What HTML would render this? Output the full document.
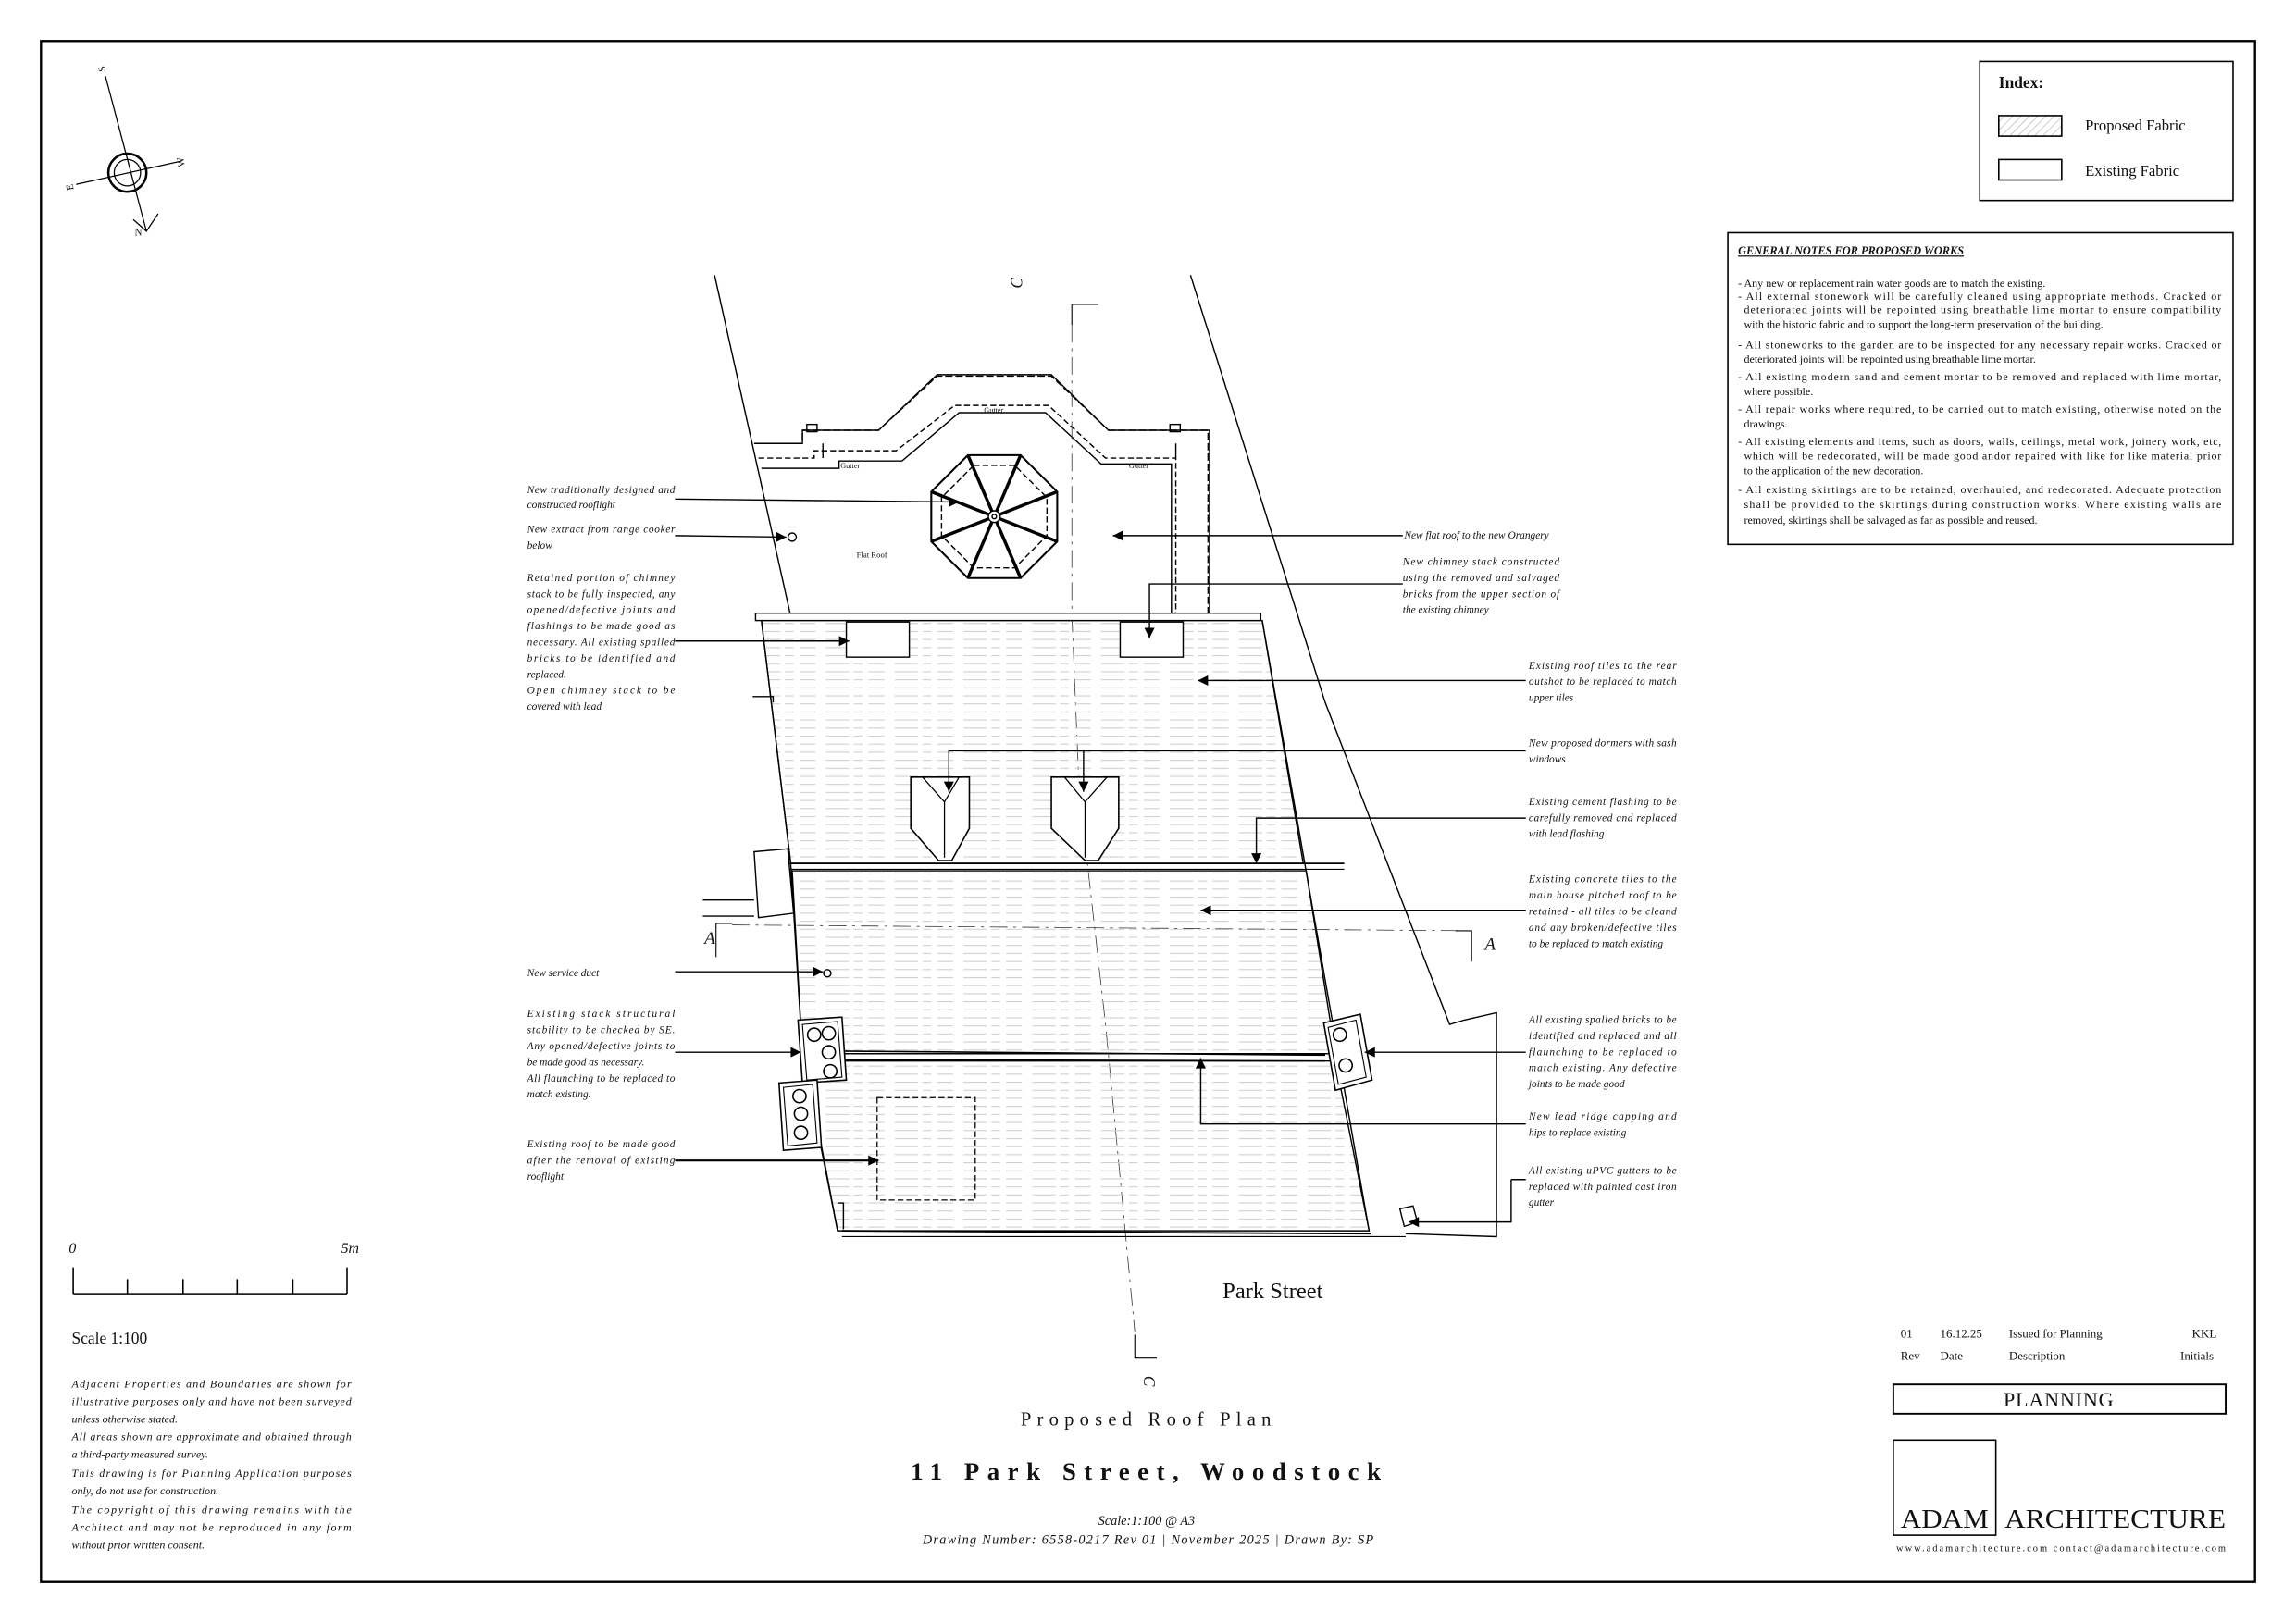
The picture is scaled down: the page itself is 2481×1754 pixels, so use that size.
<!DOCTYPE html>
<html><head><meta charset="utf-8"><style>
html,body{margin:0;padding:0;background:#fff}
svg{display:block}
text{font-family:"Liberation Serif",serif;fill:#111}
.n{font-size:7.2px;font-style:italic}
.g{font-size:7.6px}
</style></head><body>
<svg width="2481" height="1754" viewBox="0 0 1568 1109" preserveAspectRatio="none" xmlns="http://www.w3.org/2000/svg">
<defs>
<pattern id="tile" width="47" height="5.5" patternUnits="userSpaceOnUse">
<line x1="0" y1="2.5" x2="47" y2="2.5" stroke="#cfcfcf" stroke-width="0.7" stroke-dasharray="16 3 6 4 11 7"/>
</pattern>
<pattern id="hatch" width="4" height="4" patternUnits="userSpaceOnUse" patternTransform="rotate(45)">
<line x1="0" y1="0" x2="0" y2="4" stroke="#999" stroke-width="0.6"/>
</pattern>
<marker id="ar" viewBox="0 0 10 10" refX="10" refY="5" markerWidth="9" markerHeight="7" orient="auto" markerUnits="userSpaceOnUse"><path d="M0,0 L10,5 L0,10z" fill="#000"/></marker>
</defs>
<rect width="1568" height="1109" fill="#fff"/>
<rect x="28" y="28" width="1512" height="1053" fill="none" stroke="#000" stroke-width="1.5"/>

<!-- compass -->
<g stroke="#000" fill="none" stroke-width="0.8">
<line x1="72" y1="52" x2="100" y2="158"/>
<line x1="52" y1="126" x2="124" y2="110"/>
<circle cx="87" cy="118" r="13" stroke-width="1.6"/>
<circle cx="87" cy="118" r="9"/>
<path d="M91,150 L100,158 L108,146"/>
</g>
<text x="68" y="49" font-size="7" transform="rotate(-100 70 47)">S</text>
<text x="122" y="114" font-size="7" transform="rotate(-100 124 112)">W</text>
<text x="46" y="130" font-size="7" transform="rotate(-100 48 128)">E</text>
<text x="92" y="161" font-size="7">N</text>

<!-- index -->
<rect x="1352" y="42" width="173" height="95" fill="none" stroke="#000" stroke-width="1"/>
<text x="1365" y="60" font-size="11" font-weight="bold">Index:</text>
<rect x="1365" y="79" width="43" height="14" fill="url(#hatch)" stroke="#000" stroke-width="1"/>
<text x="1424" y="89" font-size="10.5">Proposed Fabric</text>
<rect x="1365" y="109" width="43" height="14" fill="none" stroke="#000" stroke-width="1"/>
<text x="1424" y="120" font-size="10.5">Existing Fabric</text>

<!-- general notes -->
<rect x="1180" y="159" width="345" height="213" fill="none" stroke="#000" stroke-width="1"/>
<text x="1187" y="174" font-size="7.8" font-weight="bold" font-style="italic" text-decoration="underline">GENERAL NOTES FOR PROPOSED WORKS</text>
<g class="g">
<text x="1187" y="196">- Any new or replacement rain water goods are to match the existing.</text>
<text x="1187" y="205" textLength="330" lengthAdjust="spacing">-  All external stonework will be carefully cleaned using appropriate methods. Cracked or</text>
<text x="1191" y="214" textLength="326" lengthAdjust="spacing">deteriorated joints will be repointed using breathable lime mortar to ensure compatibility</text>
<text x="1191" y="224">with the historic fabric and to support  the long-term preservation of the building.</text>
<text x="1187" y="238" textLength="330" lengthAdjust="spacing">- All stoneworks to the garden are to be inspected for any necessary repair works. Cracked or</text>
<text x="1191" y="248">deteriorated joints will be repointed using breathable lime mortar.</text>
<text x="1187" y="260" textLength="330" lengthAdjust="spacing">- All existing modern sand and cement mortar to be removed and replaced with lime mortar,</text>
<text x="1191" y="270">where possible.</text>
<text x="1187" y="282" textLength="330" lengthAdjust="spacing">- All repair works where required, to be carried out to match existing, otherwise noted on the</text>
<text x="1191" y="292">drawings.</text>
<text x="1187" y="304" textLength="330" lengthAdjust="spacing">- All existing elements and items, such as doors, walls, ceilings, metal work, joinery work, etc,</text>
<text x="1191" y="314" textLength="326" lengthAdjust="spacing">which will be redecorated, will be made good andor repaired with like for like material prior</text>
<text x="1191" y="324">to the application of the new decoration.</text>
<text x="1187" y="337" textLength="330" lengthAdjust="spacing">- All existing skirtings are to be retained, overhauled, and redecorated. Adequate protection</text>
<text x="1191" y="347" textLength="326" lengthAdjust="spacing">shall be provided to the skirtings during construction works. Where existing walls are</text>
<text x="1191" y="358">removed, skirtings shall be salvaged as far as possible and reused.</text>
</g>

<!-- scale bar -->
<text x="47" y="856" font-size="10" font-style="italic">0</text>
<text x="233" y="856" font-size="10" font-style="italic">5m</text>
<g stroke="#000" stroke-width="1">
<line x1="50" y1="884" x2="237" y2="884"/>
<line x1="50" y1="866" x2="50" y2="884"/><line x1="87" y1="874" x2="87" y2="884"/><line x1="125" y1="874" x2="125" y2="884"/><line x1="162" y1="874" x2="162" y2="884"/><line x1="200" y1="874" x2="200" y2="884"/><line x1="237" y1="866" x2="237" y2="884"/>
</g>
<text x="49" y="918" font-size="11">Scale 1:100</text>
<g class="n" style="font-size:7.6px">
<text x="49" y="948" textLength="191" lengthAdjust="spacing">Adjacent Properties and Boundaries are shown for</text>
<text x="49" y="960" textLength="191" lengthAdjust="spacing">illustrative purposes only and have not been surveyed</text>
<text x="49" y="972">unless otherwise stated.</text>
<text x="49" y="984" textLength="191" lengthAdjust="spacing">All areas shown are approximate and obtained through</text>
<text x="49" y="996">a third-party measured survey.</text>
<text x="49" y="1009" textLength="191" lengthAdjust="spacing">This drawing is for Planning Application purposes</text>
<text x="49" y="1021">only, do not use for construction.</text>
<text x="49" y="1034" textLength="191" lengthAdjust="spacing">The copyright of this drawing remains with the</text>
<text x="49" y="1046" textLength="191" lengthAdjust="spacing">Architect and may not be reproduced in any form</text>
<text x="49" y="1058">without prior written consent.</text>
</g>

<!-- title -->
<text x="697" y="974" font-size="13" textLength="171" lengthAdjust="spacing">Proposed Roof Plan</text>
<text x="622" y="1011" font-size="17" font-weight="bold" textLength="321" lengthAdjust="spacing">11 Park Street, Woodstock</text>
<text x="783" y="1042" font-size="9" font-style="italic" text-anchor="middle">Scale:1:100 @ A3</text>
<text x="630" y="1055" font-size="9" font-style="italic" textLength="308" lengthAdjust="spacing">Drawing Number: 6558-0217 Rev 01  |  November 2025 | Drawn By: SP</text>

<!-- revision -->
<g font-size="8.2">
<text x="1298" y="914">01</text><text x="1325" y="914">16.12.25</text><text x="1372" y="914">Issued for Planning</text><text x="1497" y="914">KKL</text>
<text x="1298" y="929">Rev</text><text x="1325" y="929">Date</text><text x="1372" y="929">Description</text><text x="1489" y="929">Initials</text>
</g>
<rect x="1293" y="946" width="227" height="20" fill="none" stroke="#000" stroke-width="1.2"/>
<text x="1406" y="961" font-size="14" text-anchor="middle" letter-spacing="0.5">PLANNING</text>
<rect x="1293" y="984" width="70" height="65" fill="none" stroke="#000" stroke-width="1"/>
<text x="1298" y="1044" font-size="18" textLength="60" lengthAdjust="spacingAndGlyphs">ADAM</text>
<text x="1369" y="1044" font-size="18" textLength="151" lengthAdjust="spacingAndGlyphs">ARCHITECTURE</text>
<text x="1295" y="1060" font-size="6.6" textLength="225" lengthAdjust="spacing">www.adamarchitecture.com   contact@adamarchitecture.com</text>

<!-- ===== DRAWING ===== -->
<g stroke="#000" fill="none" stroke-width="0.9">
<line x1="488" y1="188" x2="540" y2="421"/>
<polyline points="813,188 905,480 990,700 1000,697 1022,692 1022,845 960,843"/>
<polyline points="515,303 548,303 548,294 600,294 640,257 718,257 757,294 825,294 825,420" stroke-dasharray="5 2"/>
<polyline points="517,303 548,303 548,294 600,294 640,256 718,256 757,294 826,294 826,420"/>
<polyline points="518,313 556,313 556,308 612,308 652,277 716,277 755,313 803,313 803,420" stroke-dasharray="4 2"/>
<polyline points="520,320 573,320 573,315 616,315 655,282 714,282 752,317 800,317 800,420"/>
<line x1="562" y1="303" x2="562" y2="313"/><line x1="803" y1="303" x2="803" y2="313"/>
<rect x="551" y="290" width="7" height="5"/><rect x="799" y="290" width="7" height="5"/>
<polygon points="661,311 697,311 722,336 722,370 697,395 661,395 636,370 636,336" stroke-width="1.3"/>
<polygon points="665,318 693,318 715,340 715,366 693,388 665,388 643,366 643,340" stroke-dasharray="4 2"/>
<g stroke-width="2.2"><line x1="679" y1="353" x2="661" y2="311"/><line x1="679" y1="353" x2="697" y2="311"/><line x1="679" y1="353" x2="722" y2="336"/><line x1="679" y1="353" x2="722" y2="370"/><line x1="679" y1="353" x2="697" y2="395"/><line x1="679" y1="353" x2="661" y2="395"/><line x1="679" y1="353" x2="636" y2="370"/><line x1="679" y1="353" x2="636" y2="336"/></g>
<circle cx="679" cy="353" r="4" fill="#fff"/><circle cx="679" cy="353" r="1.5"/>
<path d="M732,222 L732,420 L737,540 L755,700 L775,910" stroke-dasharray="12 4 2 4" stroke-width="0.5" stroke="#333"/>
<polyline points="732,222 732,208 750,208" stroke-width="0.7"/>
<polyline points="775,912 775,928 790,928" stroke-width="0.7"/>
</g>
<text x="700" y="203" font-size="11" font-style="italic" transform="rotate(-90 696 201)">C</text>
<text x="786" y="945" font-size="11" font-style="italic" transform="rotate(90 786 940)">C</text>
<g font-size="5.2"><text x="672" y="282">Gutter</text><text x="574" y="320">Gutter</text><text x="771" y="320">Gutter</text></g>
<text x="585" y="381" font-size="5.5">Flat Roof</text>

<g stroke="#000" stroke-width="0.9">
<polygon points="520,424 862,424 890,590 540,590" fill="url(#tile)"/>
<polygon points="541,595 892,595 912,720 548,720" fill="url(#tile)"/>
<polygon points="550,725 912,725 935,841 572,841" fill="url(#tile)"/>
<rect x="516" y="419" width="345" height="5" fill="#fff"/>
<line x1="540" y1="590" x2="918" y2="590" stroke-width="1.1"/>
<line x1="540" y1="594" x2="918" y2="594" stroke-width="0.7"/>
<line x1="548" y1="718" x2="905" y2="721" stroke-width="1"/>
<line x1="552" y1="724" x2="905" y2="725" stroke-width="1"/>
<polyline points="520,424 540,590 548,720 572,841" fill="none"/>
<line x1="862" y1="424" x2="935" y2="841"/>
<line x1="575" y1="841" x2="936" y2="843" stroke-width="1.1"/>
<line x1="575" y1="845" x2="960" y2="845" stroke-width="0.7"/>
<polyline points="514,476 528,476 528,480" fill="none"/>
<polyline points="480,615 515,615" fill="none"/><polyline points="480,626 515,626" fill="none"/>
<polygon points="515,582 538,580 542,624 518,627" fill="#fff"/>
<polyline points="572,822 576,822 576,840" fill="none"/>
<polygon points="956,826 965,824 968,835 959,838" fill="#fff"/>
</g>
<g stroke="#000" stroke-width="0.9" fill="#fff">
<rect x="578" y="425" width="43" height="24"/>
<rect x="765" y="425" width="43" height="24"/>
</g>
<g stroke="#000" stroke-width="1" fill="#fff">
<path d="M622,531 L662,531 L662,566 L650,588 L641,588 L622,566 Z"/>
<path d="M718,531 L764,531 L764,566 L750,588 L741,588 L718,566 Z"/>
</g>
<g stroke="#000" stroke-width="0.8" fill="none">
<path d="M630,531 L645,548 L645,586 M655,531 L645,548"/>
<path d="M727,531 L741,548 L741,586 M756,531 L741,548"/>
</g>
<rect x="599" y="750" width="67" height="70" fill="none" stroke="#000" stroke-width="0.8" stroke-dasharray="4 2"/>
<g stroke="#000" stroke-width="1" fill="#fff">
<polygon points="545,697 575,695 578,738 548,740"/>
<polygon points="548,700 572,698 575,736 551,738" fill="none" stroke-width="0.7"/>
<circle cx="556" cy="707" r="4.5"/><circle cx="566" cy="706" r="4.5"/><circle cx="566" cy="719" r="4.5"/><circle cx="567" cy="732" r="4.5"/>
<polygon points="532,740 558,738 561,784 535,786"/>
<polygon points="535,743 555,741 558,781 538,783" fill="none" stroke-width="0.7"/>
<circle cx="546" cy="749" r="4.5"/><circle cx="547" cy="761" r="4.5"/><circle cx="547" cy="774" r="4.5"/>
<polygon points="904,699 929,693 937,738 912,745"/>
<polygon points="907,702 926,697 933,736 914,741" fill="none" stroke-width="0.7"/>
<circle cx="915" cy="707" r="4.5"/><circle cx="919" cy="728" r="4.5"/>
</g>
<g stroke="#000" fill="none" stroke-width="0.7">
<line x1="500" y1="632" x2="1005" y2="636" stroke-dasharray="12 4 2 4" stroke-width="0.5" stroke="#333"/>
<polyline points="489,654 489,631 500,631"/>
<polyline points="994,636 1005,636 1005,657"/>
</g>
<text x="481" y="645" font-size="12" font-style="italic">A</text>
<text x="1014" y="649" font-size="12" font-style="italic">A</text>
<text x="835" y="887" font-size="15.5">Park Street</text>

<g stroke="#000" fill="none" stroke-width="0.9" marker-end="url(#ar)">
<line x1="461" y1="341" x2="655" y2="343"/>
<line x1="461" y1="366" x2="537" y2="367"/>
<line x1="461" y1="438" x2="580" y2="438"/>
<line x1="461" y1="664" x2="562" y2="664"/>
<line x1="461" y1="719" x2="547" y2="719"/>
<line x1="461" y1="793" x2="600" y2="793" stroke-width="1.3"/>
<line x1="958" y1="366" x2="760" y2="366"/>
<polyline points="958,399 785,399 785,436"/>
<line x1="1042" y1="465" x2="818" y2="465"/>
<polyline points="1042,513 648,513 648,541"/>
<polyline points="740,513 740,541"/>
<polyline points="1042,559 858,559 858,590"/>
<line x1="1042" y1="622" x2="820" y2="622"/>
<line x1="1042" y1="719" x2="932" y2="719"/>
<polyline points="1042,768 820,768 820,723"/>
<polyline points="1032,806 1032,835 962,835"/>
</g>
<line x1="1042" y1="806" x2="1032" y2="806" stroke="#000" stroke-width="0.9"/>
<g fill="#fff" stroke="#000" stroke-width="0.9"><circle cx="541" cy="367" r="2.8"/><circle cx="565" cy="665" r="2.5"/></g>

<g class="n">
<text x="360" y="337" textLength="101" lengthAdjust="spacing">New traditionally designed and</text>
<text x="360" y="347">constructed rooflight</text>
<text x="360" y="364" textLength="101" lengthAdjust="spacing">New extract from range cooker</text>
<text x="360" y="375">below</text>
<text x="360" y="397" textLength="101" lengthAdjust="spacing">Retained portion of chimney</text>
<text x="360" y="408" textLength="101" lengthAdjust="spacing">stack to be fully inspected, any</text>
<text x="360" y="419" textLength="101" lengthAdjust="spacing">opened/defective joints and</text>
<text x="360" y="430" textLength="101" lengthAdjust="spacing">flashings to be made good as</text>
<text x="360" y="441" textLength="101" lengthAdjust="spacing">necessary. All existing spalled</text>
<text x="360" y="452" textLength="101" lengthAdjust="spacing">bricks to be identified and</text>
<text x="360" y="463">replaced.</text>
<text x="360" y="474" textLength="101" lengthAdjust="spacing">Open chimney stack to be</text>
<text x="360" y="485">covered with lead</text>
<text x="360" y="667">New service duct</text>
<text x="360" y="695" textLength="101" lengthAdjust="spacing">Existing stack structural</text>
<text x="360" y="706" textLength="101" lengthAdjust="spacing">stability to be checked by SE.</text>
<text x="360" y="717" textLength="101" lengthAdjust="spacing">Any opened/defective joints to</text>
<text x="360" y="728">be made good as necessary.</text>
<text x="360" y="739" textLength="101" lengthAdjust="spacing">All flaunching to be replaced to</text>
<text x="360" y="750">match existing.</text>
<text x="360" y="784" textLength="101" lengthAdjust="spacing">Existing roof to be made good</text>
<text x="360" y="795" textLength="101" lengthAdjust="spacing">after the removal of existing</text>
<text x="360" y="806">rooflight</text>
</g>
<g class="n">
<text x="959" y="368">New flat roof to the new Orangery</text>
<text x="958" y="386" textLength="107" lengthAdjust="spacing">New chimney stack constructed</text>
<text x="958" y="397" textLength="107" lengthAdjust="spacing">using the removed and salvaged</text>
<text x="958" y="408" textLength="107" lengthAdjust="spacing">bricks from the upper section of</text>
<text x="958" y="419">the existing chimney</text>
<text x="1044" y="457" textLength="101" lengthAdjust="spacing">Existing roof tiles to the rear</text>
<text x="1044" y="468" textLength="101" lengthAdjust="spacing">outshot to be replaced to match</text>
<text x="1044" y="479">upper tiles</text>
<text x="1044" y="510" textLength="101" lengthAdjust="spacing">New proposed dormers with sash</text>
<text x="1044" y="521">windows</text>
<text x="1044" y="550" textLength="101" lengthAdjust="spacing">Existing cement flashing to be</text>
<text x="1044" y="561" textLength="101" lengthAdjust="spacing">carefully removed and replaced</text>
<text x="1044" y="572">with lead flashing</text>
<text x="1044" y="603" textLength="101" lengthAdjust="spacing">Existing concrete tiles to the</text>
<text x="1044" y="614" textLength="101" lengthAdjust="spacing">main house pitched roof to be</text>
<text x="1044" y="625" textLength="101" lengthAdjust="spacing">retained - all tiles to be cleand</text>
<text x="1044" y="636" textLength="101" lengthAdjust="spacing">and any broken/defective tiles</text>
<text x="1044" y="647">to be replaced to match existing</text>
<text x="1044" y="699" textLength="101" lengthAdjust="spacing">All existing spalled bricks to be</text>
<text x="1044" y="710" textLength="101" lengthAdjust="spacing">identified and replaced and all</text>
<text x="1044" y="721" textLength="101" lengthAdjust="spacing">flaunching to be replaced to</text>
<text x="1044" y="732" textLength="101" lengthAdjust="spacing">match existing. Any defective</text>
<text x="1044" y="743">joints to be made good</text>
<text x="1044" y="765" textLength="101" lengthAdjust="spacing">New lead ridge capping and</text>
<text x="1044" y="776">hips to replace existing</text>
<text x="1044" y="802" textLength="101" lengthAdjust="spacing">All existing uPVC gutters to be</text>
<text x="1044" y="813" textLength="101" lengthAdjust="spacing">replaced with painted cast iron</text>
<text x="1044" y="824">gutter</text>
</g>
</svg>
</body></html>
